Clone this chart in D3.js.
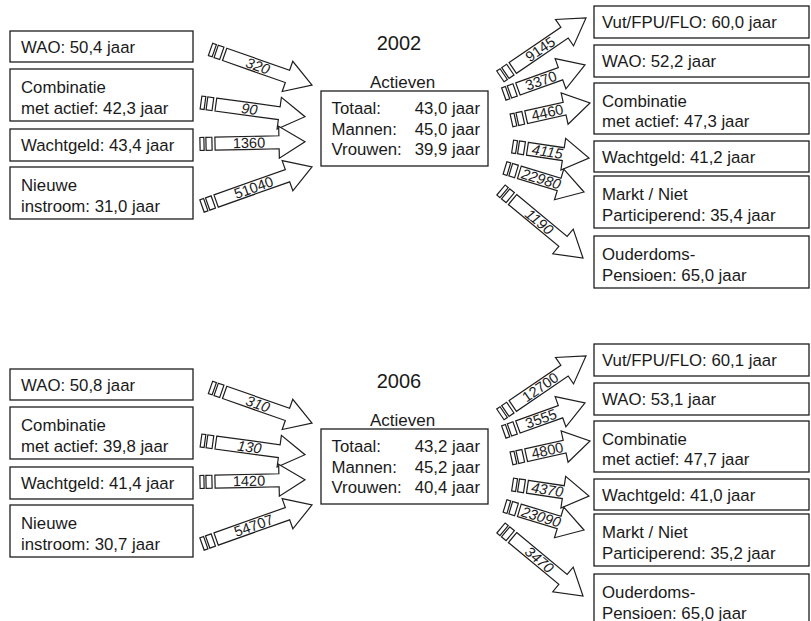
<!DOCTYPE html>
<html><head><meta charset="utf-8">
<script src="https://cdn.jsdelivr.net/npm/d3@7"></script>
<style>body{margin:0;background:#fff}svg{display:block}</style>
</head><body><svg id="c" width="811" height="621"></svg>
<script>
// ---------- data ----------
const years = ["2002", "2006"];
const inflowNames = [["WAO"], ["Combinatie", "met actief"], ["Wachtgeld"], ["Nieuwe", "instroom"]];
const inflowAges2002 = ["50,4", "42,3", "43,4", "31,0"];
const inflowAges2006 = ["50,8", "39,8", "41,4", "30,7"];
const inflowCounts2002 = [320, 90, 1360, 51040];
const inflowCounts2006 = [310, 130, 1420, 54707];
const outflowNames = [["Vut/FPU/FLO"], ["WAO"], ["Combinatie", "met actief"], ["Wachtgeld"], ["Markt / Niet", "Participerend"], ["Ouderdoms-", "Pensioen"]];
const outflowAges2002 = ["60,0", "52,2", "47,3", "41,2", "35,4", "65,0"];
const outflowAges2006 = ["60,1", "53,1", "47,7", "41,0", "35,2", "65,0"];
const outflowCounts2002 = [9145, 3370, 4460, 4115, 22980, 1190];
const outflowCounts2006 = [12700, 3555, 4800, 4370, 23090, 3470];
const activeGroups = ["Totaal:", "Mannen:", "Vrouwen:"];
const activeAges2002 = ["43,0", "45,0", "39,9"];
const activeAges2006 = ["43,2", "45,2", "40,4"];

const byYear = {
  "2002": {inA: inflowAges2002, inC: inflowCounts2002, outA: outflowAges2002, outC: outflowCounts2002, act: activeAges2002},
  "2006": {inA: inflowAges2006, inC: inflowCounts2006, outA: outflowAges2006, outC: outflowCounts2006, act: activeAges2006}
};

// ---------- layout ----------
const panelY = d3.scaleOrdinal().domain(years).range([0, 338]);
const leftBoxX = [10, 193], rightBoxX = [594, 809];
const leftBoxY = [[31, 62], [69, 121], [129, 161], [167, 219]];
const rightBoxY = [[6, 38], [45, 77], [83, 134], [141, 172], [176, 228], [236, 288]];
const leftArrowGeom = [[210.5, 49.4, 312, 85], [201, 102.5, 305, 116.7], [200, 144, 305, 141.7], [202, 206, 312, 167]];
const rightArrowGeom = [[500.4, 76.4, 586, 18], [503.8, 94, 585, 65], [511.5, 120.4, 590, 103], [512.6, 146.5, 589, 158], [505, 168, 584, 192], [501, 190, 583, 258]];

const FONT = "'Liberation Sans', Arial, Helvetica, sans-serif";
const INK = "#1a1a1a";
const LINE = "#1e1e1e";
const svg = d3.select("#c");

function drawBox(g, x0, x1, y0, y1, lines, tx) {
  g.append("rect").attr("x", x0).attr("y", y0).attr("width", x1 - x0).attr("height", y1 - y0)
    .attr("fill", "#fff").attr("stroke", LINE).attr("stroke-width", 1.3);
  const cy = (y0 + y1) / 2;
  const base = lines.length === 1 ? [cy + 6] : [cy - 2, cy + 18.5];
  g.selectAll(null).data(lines).join("text")
    .attr("x", tx).attr("y", (d, i) => base[i])
    .attr("font-family", FONT).attr("font-size", 16.8).attr("fill", INK)
    .text(d => d);
}

function boxLines(names, age) {
  const l = names.slice();
  l[l.length - 1] = l[l.length - 1] + ": " + age + " jaar";
  return l;
}

function drawArrow(g, geom, label) {
  const [x0, y0, x1, y1] = geom;
  const L = Math.hypot(x1 - x0, y1 - y0);
  const ang = Math.atan2(y1 - y0, x1 - x0) * 180 / Math.PI;
  const h = 6.5, Hh = 16, hl = 26, s = 15;
  const a = g.append("g").attr("transform", `translate(${x0},${y0}) rotate(${ang})`);
  const st = {fill: "#fff", stroke: LINE, "stroke-width": 1.2};
  [[0, 4], [6, 12]].forEach(([p, q]) => {
    const r = a.append("rect").attr("x", p).attr("y", -h).attr("width", q - p).attr("height", 2 * h);
    Object.entries(st).forEach(([k, v]) => r.attr(k, v));
  });
  const pts = [[s, -h], [L - hl, -h], [L - hl, -Hh], [L, 0], [L - hl, Hh], [L - hl, h], [s, h]];
  const p = a.append("path").attr("d", d3.line()(pts) + "Z").attr("stroke-linejoin", "miter");
  Object.entries(st).forEach(([k, v]) => p.attr(k, v));
  a.append("text").attr("x", (s + L - hl) / 2 + 2).attr("y", 5)
    .attr("text-anchor", "middle").attr("font-family", FONT).attr("font-size", 14.5).attr("fill", INK)
    .attr("font-style", ang > 3 ? "italic" : "normal")
    .text(String(label));
}

years.forEach(yr => {
  const d = byYear[yr];
  const g = svg.append("g").attr("transform", `translate(0,${panelY(yr)})`);
  inflowNames.forEach((n, i) => drawBox(g, leftBoxX[0], leftBoxX[1], leftBoxY[i][0], leftBoxY[i][1], boxLines(n, d.inA[i]), 21));
  outflowNames.forEach((n, i) => drawBox(g, rightBoxX[0], rightBoxX[1], rightBoxY[i][0], rightBoxY[i][1], boxLines(n, d.outA[i]), 602));
  d.inC.forEach((c, i) => drawArrow(g, leftArrowGeom[i], c));
  d.outC.forEach((c, i) => drawArrow(g, rightArrowGeom[i], c));
  g.append("text").attr("x", 399).attr("y", 49.5).attr("text-anchor", "middle")
    .attr("font-family", FONT).attr("font-size", 20).attr("fill", INK).text(yr);
  g.append("text").attr("x", 402.5).attr("y", 87.7).attr("text-anchor", "middle")
    .attr("font-family", FONT).attr("font-size", 17).attr("fill", INK).text("Actieven");
  g.append("rect").attr("x", 321).attr("y", 91).attr("width", 167).attr("height", 75)
    .attr("fill", "#fff").attr("stroke", LINE).attr("stroke-width", 1.3);
  const rowY = [114.3, 134.5, 155];
  g.selectAll(null).data(activeGroups).join("text")
    .attr("x", 331.5).attr("y", (t, i) => rowY[i])
    .attr("font-family", FONT).attr("font-size", 16.8).attr("fill", INK).text(t => t);
  g.selectAll(null).data(d.act).join("text")
    .attr("x", 480).attr("y", (t, i) => rowY[i]).attr("text-anchor", "end")
    .attr("font-family", FONT).attr("font-size", 16.8).attr("fill", INK).text(t => t + " jaar");
});
</script></body></html>
